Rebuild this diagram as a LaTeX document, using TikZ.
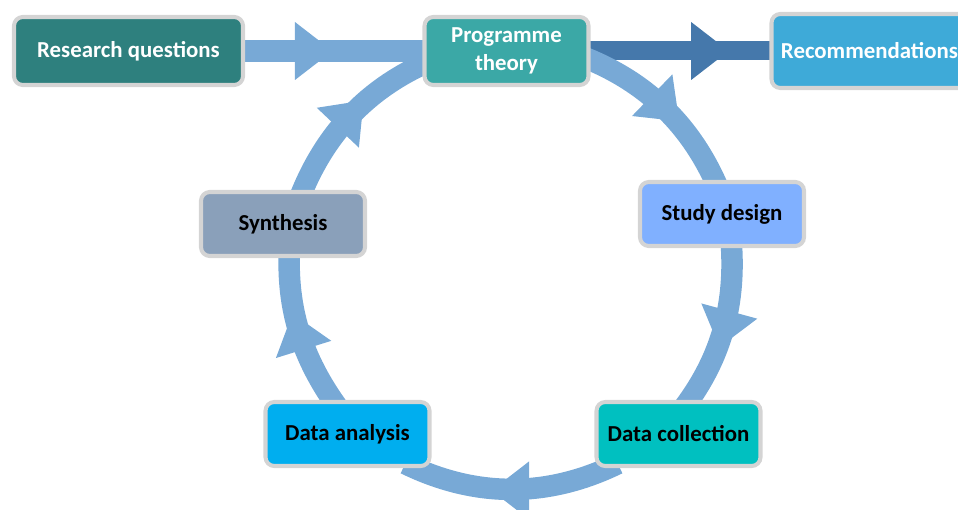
\documentclass[tikz,border=0pt]{standalone}
\usepackage{fontspec}
\setmainfont{Carlito}
\usetikzlibrary{decorations.markings, backgrounds}

\definecolor{ringblue}{RGB}{120,169,214}
\definecolor{darkflow}{RGB}{69,120,171}
\definecolor{boxgray}{RGB}{212,212,212}
\definecolor{rqteal}{RGB}{46,128,126}
\definecolor{ptteal}{RGB}{59,168,166}
\definecolor{recblue}{RGB}{62,170,216}
\definecolor{synthgray}{RGB}{138,160,186}
\definecolor{designblue}{RGB}{128,176,255}
\definecolor{analysisblue}{RGB}{0,174,239}
\definecolor{collectteal}{RGB}{0,192,192}

\begin{document}
\begin{tikzpicture}[
	box/.style = {draw = boxgray, line width = 2.3pt, rounded corners = 5pt, minimum width = 3.28cm, minimum height = 1.28cm, align = center, inner sep = 1pt, font = \fontsize{13pt}{16pt}\selectfont\bfseries},
	flow/.style 2 args = {draw = #1, line width = 0.43cm, shorten <= -0.2cm, shorten >= -0.2cm,
		postaction = {decorate, decoration = {markings, mark = at position #2 with {\fill[#1, shorten <= 0pt, shorten >= 0pt] (-0.35, 0.58) -- (0.4, 0) -- (-0.35, -0.58) -- cycle;}}}}
	]
	 \useasboundingbox (0, 0) rectangle (19.16, 10.18);
	 
	 % top row
	 \node[box, fill = rqteal, text = white, minimum width = 4.58cm, minimum height = 1.36cm] (rq) at (2.57, 9.16) {Research questions};
	 \node[box, fill = ptteal, text = white, minimum height = 1.36cm] (pt) at (10.13, 9.16) {Programme\\theory};
	 \node[box, fill = recblue, text = white, minimum width = 3.92cm, minimum height = 1.48cm] (rec) at (17.39, 9.16) {Recommendations};
	 
	 % cycle
	 \node[box, fill = synthgray] (syn) at (5.66, 5.70) {Synthesis};
	 \node[box, fill = designblue] (design) at (14.44, 5.90) {Study design};
	 \node[box, fill = analysisblue] (analysis) at (6.95, 1.50) {Data analysis};
	 \node[box, fill = collectteal] (collect) at (13.57, 1.50) {Data collection};
	 
	 \begin{scope}[on background layer]
	 \draw[flow = {ringblue}{0.38}] (rq) -- (pt);
	 \draw[flow = {darkflow}{0.66}, line width = 0.38cm] (pt) -- (rec);
	 
	 \draw[flow = {ringblue}{0.5}] (pt.-6.5) to[out = -21, in = 113, looseness = 0.88] (design.102);
	 \draw[flow = {ringblue}{0.5}] (design.-74) to[out = -85, in = 53, looseness = 0.88] (collect.72);
	 \draw[flow = {ringblue}{0.5}] (collect.206) to[out = -154, in = -26, looseness = 0.9] (analysis.-27);
	 \draw[flow = {ringblue}{0.5}] (analysis.114) to[out = 126, in = -93, looseness = 0.88] (syn.-80);
	 \draw[flow = {ringblue}{0.5}] (syn.60) to[out = 69, in = 203, looseness = 0.88] (pt.189);
	 \end{scope}
\end{tikzpicture}
\end{document}
